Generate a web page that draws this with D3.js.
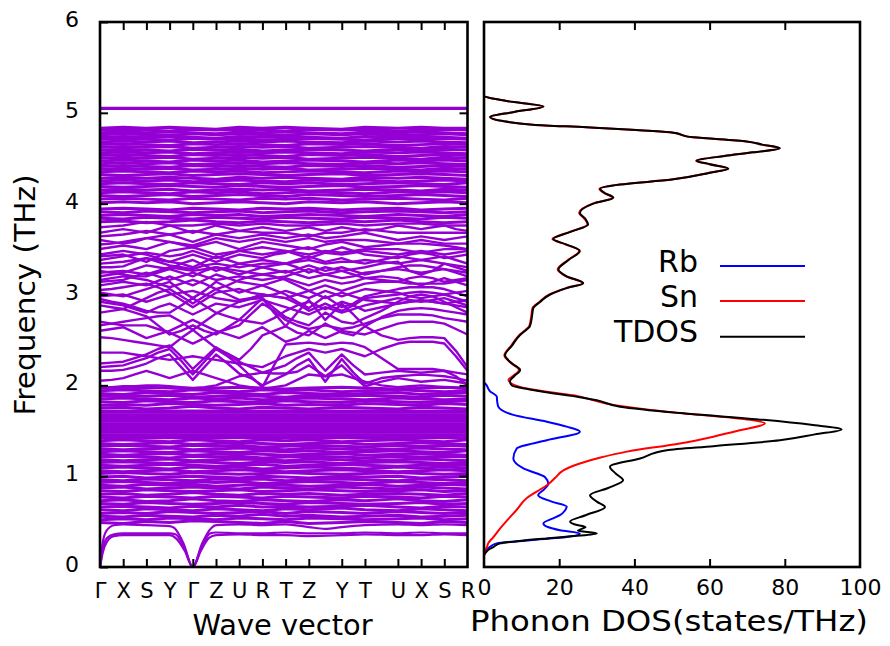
<!DOCTYPE html>
<html>
<head>
<meta charset="utf-8">
<script src="https://cdn.jsdelivr.net/npm/d3@7"></script>
<style>
  body { margin: 0; background: #fff; }
  svg { display: block; font-family: "DejaVu Sans", sans-serif; }
</style>
</head>
<body>
<svg id="chart" width="890" height="646"></svg>
<script>
// High-symmetry path: labels and cumulative path length
const kLabels = ["Γ","X","S","Y","Γ","Z","U","R","T","Z","Y","T","U","X","S","R"];
const kDist = [0,1,2,3,4,5,6,7,8,9,10.42,11.42,12.84,13.84,14.84,15.84];
const freqTicks = [0,1,2,3,4,5,6];
const dosTicks = [0,20,40,60,80,100];

// Acoustic branches as [k, frequency] pairs
const acousticBranches = [
  [[0,0],[0.12,0.16],[0.3,0.28],[0.6,0.34],[1,0.35],[2,0.35],[3,0.35],[3.3,0.31],[3.65,0.18],[4,0],[4.35,0.18],[4.7,0.32],[5,0.35],[6,0.36],[7,0.35],[8,0.35],[9,0.34],[10.42,0.35],[11.42,0.36],[12.84,0.35],[13.84,0.35],[14.84,0.36],[15.84,0.35]],
  [[0,0],[0.12,0.2],[0.3,0.32],[0.6,0.36],[1,0.37],[2,0.37],[3,0.37],[3.25,0.36],[3.62,0.22],[4,0],[4.38,0.22],[4.75,0.37],[5,0.38],[6,0.37],[7,0.37],[8,0.38],[9,0.37],[10.42,0.37],[11.42,0.38],[12.84,0.37],[13.84,0.38],[14.84,0.37],[15.84,0.37]],
  [[0,0],[0.1,0.24],[0.28,0.4],[0.6,0.46],[1,0.47],[2,0.46],[3,0.45],[3.2,0.43],[3.6,0.26],[4,0],[4.4,0.26],[4.8,0.43],[5,0.46],[6,0.47],[7,0.46],[8,0.47],[9,0.44],[9.7,0.42],[10.42,0.44],[11.42,0.46],[12.84,0.47],[13.84,0.46],[14.84,0.47],[15.84,0.46]]
];

// Optical bands, one value per high-symmetry point (0.5 - 1.0 THz)
const bandsLow = [
  [0.49,0.48,0.50,0.49,0.51,0.50,0.49,0.48,0.50,0.48,0.49,0.50,0.49,0.48,0.50,0.49],
  [0.52,0.53,0.52,0.54,0.53,0.52,0.54,0.53,0.52,0.54,0.53,0.52,0.53,0.54,0.52,0.53],
  [0.56,0.55,0.57,0.56,0.55,0.57,0.56,0.58,0.56,0.57,0.55,0.56,0.57,0.55,0.56,0.57],
  [0.59,0.60,0.59,0.61,0.60,0.59,0.60,0.61,0.59,0.61,0.60,0.59,0.61,0.60,0.59,0.60],
  [0.63,0.62,0.64,0.63,0.62,0.64,0.63,0.62,0.64,0.63,0.65,0.63,0.62,0.64,0.63,0.62],
  [0.66,0.67,0.66,0.65,0.67,0.66,0.68,0.66,0.67,0.66,0.67,0.68,0.66,0.65,0.67,0.66],
  [0.70,0.69,0.71,0.70,0.69,0.70,0.71,0.70,0.69,0.71,0.70,0.69,0.70,0.71,0.69,0.70],
  [0.73,0.74,0.72,0.73,0.75,0.73,0.72,0.74,0.73,0.72,0.74,0.73,0.75,0.73,0.72,0.74],
  [0.77,0.76,0.78,0.77,0.76,0.78,0.77,0.76,0.78,0.77,0.76,0.78,0.77,0.76,0.78,0.77],
  [0.80,0.81,0.79,0.80,0.82,0.80,0.79,0.81,0.80,0.81,0.79,0.80,0.81,0.80,0.79,0.81],
  [0.84,0.83,0.85,0.84,0.83,0.84,0.85,0.83,0.84,0.85,0.84,0.83,0.84,0.85,0.83,0.84],
  [0.87,0.88,0.86,0.87,0.88,0.87,0.86,0.88,0.87,0.86,0.88,0.87,0.86,0.88,0.87,0.86],
  [0.90,0.89,0.91,0.90,0.91,0.89,0.90,0.91,0.90,0.89,0.90,0.91,0.89,0.90,0.91,0.90],
  [0.93,0.94,0.93,0.92,0.94,0.93,0.94,0.92,0.93,0.94,0.93,0.92,0.94,0.93,0.92,0.93],
  [0.96,0.95,0.97,0.96,0.95,0.97,0.96,0.97,0.95,0.96,0.97,0.96,0.95,0.97,0.96,0.95],
  [0.99,1.00,0.98,0.99,1.00,0.99,0.98,1.00,0.99,0.98,1.00,0.99,1.00,0.98,0.99,1.00]
];

// Optical bands 1.0 - 2.0 THz
const bandsMid = [
  [1.03,1.04,1.03,1.02,1.04,1.03,1.02,1.03,1.04,1.03,1.02,1.03,1.04,1.03,1.02,1.03],
  [1.06,1.05,1.06,1.07,1.05,1.06,1.07,1.06,1.05,1.06,1.07,1.06,1.05,1.06,1.07,1.06],
  [1.09,1.10,1.09,1.08,1.10,1.09,1.10,1.08,1.09,1.10,1.09,1.08,1.10,1.09,1.10,1.09],
  [1.12,1.11,1.12,1.13,1.12,1.11,1.12,1.13,1.11,1.12,1.13,1.12,1.11,1.12,1.13,1.12],
  [1.15,1.16,1.15,1.14,1.16,1.15,1.14,1.16,1.15,1.16,1.14,1.15,1.16,1.15,1.14,1.15],
  [1.18,1.17,1.18,1.19,1.17,1.18,1.19,1.18,1.17,1.19,1.18,1.17,1.18,1.19,1.18,1.17],
  [1.21,1.22,1.21,1.20,1.22,1.21,1.22,1.20,1.21,1.22,1.21,1.20,1.22,1.21,1.22,1.21],
  [1.24,1.23,1.24,1.25,1.23,1.24,1.25,1.24,1.23,1.24,1.25,1.23,1.24,1.25,1.24,1.23],
  [1.27,1.28,1.27,1.26,1.28,1.27,1.26,1.28,1.27,1.28,1.26,1.27,1.28,1.27,1.26,1.28],
  [1.30,1.29,1.30,1.31,1.29,1.30,1.31,1.30,1.29,1.31,1.30,1.29,1.30,1.31,1.30,1.29],
  [1.33,1.34,1.33,1.32,1.34,1.33,1.34,1.32,1.33,1.34,1.33,1.32,1.34,1.33,1.34,1.33],
  [1.36,1.35,1.36,1.37,1.35,1.36,1.37,1.36,1.35,1.36,1.37,1.35,1.36,1.37,1.36,1.35],
  [1.39,1.40,1.39,1.38,1.40,1.39,1.38,1.40,1.39,1.40,1.38,1.39,1.40,1.39,1.38,1.40],
  [1.75,1.76,1.74,1.75,1.77,1.75,1.74,1.76,1.75,1.74,1.76,1.75,1.74,1.76,1.75,1.74],
  [1.78,1.79,1.78,1.80,1.79,1.78,1.79,1.80,1.78,1.79,1.78,1.80,1.79,1.78,1.80,1.79],
  [1.82,1.81,1.83,1.82,1.81,1.83,1.82,1.81,1.83,1.82,1.81,1.83,1.82,1.81,1.82,1.83],
  [1.85,1.86,1.85,1.84,1.86,1.85,1.86,1.84,1.85,1.86,1.85,1.84,1.86,1.85,1.84,1.85],
  [1.88,1.89,1.88,1.89,1.87,1.88,1.89,1.88,1.87,1.89,1.88,1.89,1.88,1.87,1.89,1.88],
  [1.91,1.90,1.92,1.91,1.90,1.92,1.91,1.90,1.92,1.91,1.90,1.91,1.92,1.90,1.91,1.92],
  [1.94,1.95,1.94,1.93,1.95,1.94,1.93,1.95,1.94,1.95,1.93,1.94,1.95,1.94,1.93,1.94],
  [1.97,1.97,1.98,1.97,1.96,1.97,1.98,1.97,1.96,1.97,1.98,1.97,1.96,1.97,1.98,1.97]
];

// Dispersionless bands (constant frequency along the whole path)
const flatLevels = [1.42,1.44,1.46,1.48,1.50,1.52,1.54,1.56,1.58,1.60,1.62,1.64,1.66,1.68,1.70,1.72,5.045,5.055];

// Dispersive bands 2.0 - 3.8 THz, values at high-symmetry points and segment midpoints
const bandsDispersive = [
  [2.16,2.16,2.17,2.20,2.24,2.30,2.34,2.20,2.06,2.20,2.34,2.24,2.13,2.08,2.00,2.06,2.12,2.22,2.29,2.04,2.29,2.14,2.02,2.08,2.10,2.11,2.12,2.11,2.10,2.08,2.05],
  [2.20,2.21,2.22,2.26,2.30,2.36,2.40,2.27,2.12,2.26,2.40,2.32,2.22,2.10,1.98,2.22,2.45,2.46,2.47,2.45,2.47,2.46,2.42,2.30,2.18,2.18,2.18,2.18,2.16,2.10,2.00],
  [1.98,1.98,1.99,1.99,2.00,2.00,1.99,1.98,1.97,1.98,2.00,2.05,2.10,2.12,2.14,2.13,2.13,2.15,2.22,2.10,2.22,2.10,1.99,2.04,2.08,2.06,2.04,2.05,2.06,2.04,2.02],
  [2.53,2.52,2.50,2.48,2.46,2.44,2.42,2.52,2.61,2.51,2.41,2.35,2.28,2.40,2.55,2.60,2.65,2.80,2.94,2.72,2.90,2.78,2.65,2.55,2.50,2.52,2.53,2.53,2.52,2.38,2.20],
  [2.66,2.68,2.70,2.72,2.74,2.76,2.77,2.70,2.61,2.70,2.79,2.86,2.92,2.95,2.96,2.80,2.65,2.58,2.55,2.68,2.58,2.55,2.65,2.75,2.82,2.84,2.85,2.84,2.82,2.80,2.78],
  [2.95,2.92,2.90,2.86,2.82,2.80,2.80,2.88,2.96,2.88,2.80,2.76,2.72,2.84,2.96,2.85,2.75,2.70,2.66,2.80,2.70,2.68,2.74,2.82,2.92,2.98,3.00,2.98,2.92,2.86,2.80],
  [3.02,3.00,2.98,3.02,3.06,3.10,3.14,3.04,2.96,3.04,3.14,3.08,3.02,3.06,3.10,3.05,3.00,2.92,2.85,2.98,2.86,2.90,2.98,3.02,3.06,3.08,3.08,3.08,3.06,3.02,2.98],
  [3.10,3.12,3.14,3.12,3.10,3.15,3.20,3.15,3.10,3.16,3.22,3.18,3.14,3.12,3.10,3.14,3.18,3.14,3.10,3.16,3.12,3.14,3.18,3.20,3.18,3.14,3.10,3.14,3.18,3.14,3.10],
  [3.20,3.22,3.24,3.28,3.32,3.30,3.28,3.24,3.20,3.26,3.30,3.26,3.22,3.26,3.30,3.27,3.24,3.28,3.32,3.26,3.30,3.26,3.22,3.26,3.30,3.32,3.32,3.30,3.28,3.24,3.20],
  [3.30,3.30,3.31,3.36,3.40,3.38,3.36,3.34,3.30,3.36,3.42,3.38,3.34,3.36,3.38,3.36,3.34,3.38,3.42,3.36,3.40,3.36,3.34,3.38,3.42,3.40,3.38,3.40,3.42,3.38,3.34],
  [3.38,3.40,3.42,3.44,3.46,3.44,3.42,3.44,3.48,3.44,3.40,3.44,3.48,3.46,3.44,3.46,3.48,3.44,3.40,3.46,3.44,3.46,3.48,3.46,3.44,3.46,3.48,3.46,3.44,3.46,3.48],
  [3.50,3.52,3.54,3.52,3.50,3.54,3.58,3.55,3.52,3.55,3.58,3.54,3.50,3.54,3.58,3.56,3.54,3.52,3.50,3.55,3.58,3.55,3.52,3.54,3.56,3.56,3.56,3.55,3.54,3.52,3.50],
  [2.80,2.82,2.84,2.80,2.76,2.66,2.56,2.60,2.66,2.60,2.56,2.64,2.72,2.70,2.68,2.74,2.82,2.88,2.92,2.84,2.92,2.88,2.82,2.86,2.90,2.92,2.93,2.92,2.90,2.88,2.86],
  [2.88,2.86,2.84,2.90,2.96,3.02,3.06,2.98,2.90,2.98,3.06,3.00,2.94,2.96,2.98,3.00,3.04,3.00,2.96,3.04,2.98,3.02,3.06,3.04,3.02,2.98,2.96,2.98,3.00,2.96,2.92],
  [2.60,2.62,2.64,2.58,2.52,2.56,2.60,2.66,2.72,2.66,2.60,2.56,2.52,2.58,2.64,2.56,2.48,2.52,2.60,2.52,2.60,2.58,2.56,2.62,2.68,2.70,2.70,2.70,2.68,2.62,2.56],
  [3.16,3.18,3.20,3.18,3.16,3.12,3.08,3.12,3.16,3.12,3.06,3.10,3.16,3.20,3.22,3.20,3.16,3.10,3.04,3.10,3.04,3.08,3.12,3.14,3.14,3.12,3.12,3.12,3.12,3.14,3.16],
  [3.26,3.24,3.22,3.20,3.20,3.24,3.28,3.34,3.38,3.32,3.26,3.30,3.34,3.32,3.30,3.32,3.34,3.30,3.24,3.30,3.26,3.28,3.30,3.34,3.36,3.26,3.22,3.26,3.34,3.30,3.26],
  [3.44,3.46,3.48,3.46,3.44,3.40,3.36,3.40,3.44,3.40,3.36,3.40,3.44,3.42,3.40,3.44,3.46,3.50,3.52,3.46,3.52,3.48,3.44,3.42,3.40,3.44,3.46,3.44,3.40,3.42,3.44],
  [3.60,3.58,3.56,3.58,3.62,3.64,3.66,3.62,3.58,3.62,3.66,3.64,3.62,3.64,3.66,3.64,3.62,3.64,3.66,3.62,3.64,3.66,3.68,3.64,3.60,3.62,3.64,3.62,3.60,3.62,3.64],
  [3.68,3.70,3.72,3.70,3.68,3.72,3.76,3.72,3.68,3.72,3.76,3.73,3.70,3.72,3.74,3.72,3.70,3.72,3.74,3.70,3.74,3.72,3.70,3.72,3.76,3.74,3.72,3.74,3.76,3.72,3.70],
  [2.05,2.06,2.08,2.12,2.16,2.12,2.08,2.12,2.16,2.12,2.08,2.04,2.00,1.98,1.96,1.98,2.00,2.06,2.12,2.10,2.12,2.08,2.04,2.00,1.98,1.99,2.00,1.99,1.98,1.97,1.96],
  [2.70,2.68,2.66,2.66,2.66,2.62,2.58,2.52,2.46,2.52,2.58,2.62,2.66,2.78,2.90,2.82,2.72,2.66,2.62,2.66,2.62,2.64,2.68,2.74,2.78,2.78,2.78,2.77,2.74,2.72,2.70],
  [3.05,3.06,3.08,3.10,3.12,3.08,3.02,2.94,2.86,2.94,3.02,3.04,3.06,3.02,3.00,2.98,2.96,2.90,2.82,2.90,2.82,2.88,2.96,2.98,3.00,3.02,3.03,3.02,3.00,3.02,3.04],
  [3.24,3.25,3.26,3.24,3.22,3.26,3.30,3.28,3.26,3.28,3.30,3.28,3.26,3.24,3.22,3.24,3.26,3.22,3.18,3.22,3.18,3.20,3.24,3.26,3.28,3.26,3.24,3.26,3.28,3.26,3.24],
  [3.34,3.35,3.36,3.38,3.40,3.36,3.32,3.30,3.28,3.32,3.34,3.32,3.30,3.32,3.34,3.34,3.34,3.36,3.38,3.34,3.36,3.36,3.38,3.36,3.34,3.36,3.38,3.36,3.34,3.32,3.30],
  [3.55,3.56,3.58,3.60,3.62,3.60,3.58,3.56,3.54,3.58,3.62,3.60,3.58,3.60,3.62,3.60,3.58,3.60,3.62,3.58,3.60,3.60,3.60,3.58,3.56,3.58,3.60,3.58,3.56,3.56,3.56],
  [3.64,3.65,3.66,3.68,3.70,3.68,3.66,3.68,3.70,3.68,3.66,3.68,3.70,3.69,3.68,3.68,3.68,3.66,3.64,3.68,3.68,3.70,3.72,3.70,3.68,3.68,3.68,3.68,3.68,3.68,3.68],
  [3.74,3.75,3.76,3.78,3.80,3.78,3.76,3.76,3.76,3.77,3.78,3.77,3.76,3.77,3.78,3.77,3.76,3.76,3.76,3.77,3.78,3.77,3.76,3.77,3.78,3.78,3.78,3.77,3.76,3.76,3.76],
  [2.24,2.25,2.26,2.30,2.34,2.40,2.44,2.32,2.18,2.30,2.42,2.34,2.26,2.20,2.14,2.18,2.22,2.30,2.36,2.16,2.34,2.22,2.12,2.14,2.16,2.15,2.14,2.15,2.16,2.14,2.12],
  [2.92,2.90,2.88,2.84,2.80,2.86,2.90,2.84,2.78,2.84,2.90,2.88,2.86,2.90,2.94,2.90,2.86,2.82,2.78,2.86,2.80,2.84,2.88,2.92,2.96,2.94,2.92,2.94,2.96,2.92,2.88],
  [2.36,2.36,2.36,2.34,2.32,2.30,2.28,2.30,2.32,2.30,2.28,2.26,2.24,2.22,2.20,2.26,2.32,2.36,2.40,2.36,2.40,2.36,2.32,2.40,2.46,2.48,2.48,2.48,2.46,2.32,2.16],
  [2.98,2.99,3.00,2.96,2.92,2.96,3.00,3.02,3.04,3.00,2.96,2.94,2.92,2.96,3.00,2.98,2.96,3.00,3.04,2.96,3.02,2.98,2.94,2.92,2.90,2.92,2.94,2.92,2.90,2.92,2.94],
  [3.14,3.15,3.16,3.20,3.24,3.20,3.16,3.20,3.24,3.20,3.16,3.18,3.20,3.18,3.16,3.18,3.20,3.24,3.28,3.22,3.26,3.22,3.18,3.16,3.14,3.18,3.20,3.18,3.14,3.16,3.18],
  [3.42,3.43,3.44,3.40,3.36,3.42,3.48,3.50,3.52,3.48,3.44,3.46,3.48,3.50,3.52,3.50,3.48,3.46,3.44,3.48,3.46,3.48,3.50,3.50,3.50,3.48,3.46,3.48,3.50,3.50,3.50]
];

// Optical bands 3.8 - 4.85 THz
const bandsHigh = [
  [3.80,3.81,3.79,3.80,3.82,3.80,3.79,3.81,3.80,3.79,3.81,3.80,3.82,3.80,3.79,3.80],
  [3.84,3.83,3.85,3.84,3.83,3.85,3.84,3.83,3.85,3.84,3.83,3.85,3.84,3.83,3.85,3.84],
  [3.87,3.88,3.87,3.86,3.88,3.87,3.88,3.86,3.87,3.88,3.87,3.86,3.88,3.87,3.86,3.88],
  [3.91,3.90,3.92,3.91,3.90,3.91,3.92,3.90,3.91,3.92,3.90,3.91,3.92,3.91,3.90,3.91],
  [3.94,3.95,3.94,3.93,3.95,3.94,3.93,3.95,3.94,3.95,3.93,3.94,3.95,3.93,3.94,3.95],
  [4.01,4.02,4.01,4.02,4.00,4.01,4.02,4.01,4.00,4.02,4.01,4.02,4.00,4.01,4.02,4.01],
  [4.05,4.06,4.05,4.04,4.06,4.05,4.04,4.06,4.05,4.06,4.04,4.05,4.06,4.05,4.04,4.06],
  [4.09,4.08,4.09,4.10,4.08,4.09,4.10,4.09,4.08,4.10,4.09,4.08,4.09,4.10,4.09,4.08],
  [4.12,4.13,4.12,4.11,4.13,4.12,4.13,4.11,4.12,4.13,4.12,4.11,4.13,4.12,4.13,4.12],
  [4.15,4.16,4.15,4.16,4.14,4.15,4.16,4.15,4.16,4.14,4.15,4.16,4.15,4.14,4.16,4.15],
  [4.19,4.18,4.19,4.20,4.19,4.18,4.20,4.19,4.18,4.19,4.20,4.18,4.19,4.20,4.19,4.18],
  [4.22,4.23,4.22,4.21,4.23,4.22,4.21,4.23,4.22,4.23,4.21,4.22,4.23,4.22,4.21,4.23],
  [4.25,4.26,4.25,4.26,4.24,4.25,4.26,4.25,4.24,4.26,4.25,4.26,4.24,4.25,4.26,4.25],
  [4.28,4.29,4.28,4.29,4.28,4.27,4.29,4.28,4.29,4.28,4.27,4.29,4.28,4.29,4.28,4.27],
  [4.32,4.31,4.32,4.33,4.31,4.32,4.33,4.32,4.31,4.32,4.33,4.31,4.32,4.33,4.32,4.31],
  [4.35,4.36,4.35,4.34,4.36,4.35,4.36,4.34,4.35,4.36,4.35,4.34,4.36,4.35,4.36,4.35],
  [4.38,4.39,4.38,4.39,4.37,4.38,4.39,4.38,4.39,4.37,4.38,4.39,4.38,4.37,4.39,4.38],
  [4.41,4.42,4.41,4.40,4.42,4.41,4.42,4.41,4.40,4.42,4.41,4.42,4.40,4.41,4.42,4.41],
  [4.44,4.45,4.44,4.45,4.43,4.44,4.45,4.44,4.45,4.44,4.43,4.45,4.44,4.45,4.44,4.43],
  [4.47,4.48,4.47,4.46,4.48,4.47,4.48,4.46,4.47,4.48,4.47,4.46,4.48,4.47,4.48,4.47],
  [4.50,4.51,4.50,4.51,4.49,4.50,4.51,4.50,4.51,4.49,4.50,4.51,4.50,4.49,4.51,4.50],
  [4.53,4.54,4.53,4.52,4.54,4.53,4.54,4.53,4.52,4.54,4.53,4.54,4.52,4.53,4.54,4.53],
  [4.56,4.57,4.56,4.57,4.55,4.56,4.57,4.56,4.57,4.56,4.55,4.57,4.56,4.57,4.56,4.55],
  [4.59,4.60,4.59,4.58,4.60,4.59,4.60,4.58,4.59,4.60,4.59,4.58,4.60,4.59,4.60,4.59],
  [4.62,4.63,4.62,4.63,4.61,4.62,4.63,4.62,4.63,4.61,4.62,4.63,4.62,4.61,4.63,4.62],
  [4.65,4.66,4.65,4.64,4.66,4.65,4.66,4.65,4.64,4.66,4.65,4.66,4.64,4.65,4.66,4.65],
  [4.68,4.69,4.68,4.69,4.67,4.68,4.69,4.68,4.69,4.68,4.67,4.69,4.68,4.69,4.68,4.67],
  [4.71,4.72,4.71,4.70,4.72,4.71,4.72,4.70,4.71,4.72,4.71,4.70,4.72,4.71,4.72,4.71],
  [4.73,4.74,4.73,4.74,4.73,4.72,4.74,4.73,4.74,4.73,4.72,4.74,4.73,4.74,4.73,4.72],
  [4.76,4.77,4.76,4.75,4.77,4.76,4.77,4.76,4.75,4.77,4.76,4.77,4.75,4.76,4.77,4.76],
  [4.78,4.79,4.78,4.79,4.78,4.77,4.79,4.78,4.79,4.78,4.77,4.79,4.78,4.79,4.78,4.77],
  [4.81,4.82,4.81,4.80,4.82,4.81,4.82,4.81,4.80,4.82,4.81,4.82,4.80,4.81,4.82,4.81],
  [4.83,4.84,4.83,4.84,4.83,4.82,4.84,4.83,4.84,4.83,4.82,4.84,4.83,4.84,4.83,4.83]
];

// Phonon density of states: [frequency (THz), states/THz]
const dosRb = [[0,0],[0.14,0],[0.18,0.5],[0.22,1.5],[0.26,3.4],[0.295,12.2],[0.33,22],[0.37,25.5],[0.405,20.2],[0.44,17],[0.48,15.8],[0.53,18],[0.57,20.2],[0.62,21.5],[0.665,22],[0.72,18],[0.79,14.4],[0.855,16],[0.915,17.1],[0.99,16.2],[1.085,10.5],[1.195,7.8],[1.305,8.7],[1.395,16.7],[1.49,25.5],[1.545,22],[1.60,16.7],[1.675,7.8],[1.765,3.8],[1.825,3.5],[1.875,3.4],[1.94,1.5],[2.0,0.7],[2.04,0],[6,0]];
const dosSn = [[0,0],[0.14,0],[0.18,0.3],[0.22,0.8],[0.26,1.1],[0.33,2.5],[0.425,4.3],[0.53,6.5],[0.63,8.7],[0.76,11.4],[0.83,14],[0.90,16.7],[0.985,19],[1.065,21.1],[1.14,25.5],[1.205,31],[1.27,38],[1.36,52.1],[1.435,61],[1.505,68],[1.58,74.7],[1.625,69.9],[1.71,48.6],[1.785,34.4],[1.89,23.8],[1.965,11.4],[2.06,6.5],[2.10,7.6],[2.17,9.3],[2.24,7.3],[2.33,5.4],[2.44,7.3],[2.555,9.4],[2.62,11.3],[2.65,12.0],[2.77,12.6],[2.85,12.9],[2.92,14.8],[3.0,17.4],[3.07,21.8],[3.125,26.2],[3.20,21.8],[3.275,19.6],[3.38,22.3],[3.48,25.3],[3.55,21.8],[3.61,18.2],[3.69,22.8],[3.77,27.5],[3.83,26.8],[3.90,25.3],[4.0,28.9],[4.065,34.2],[4.12,31.8],[4.165,30.7],[4.21,36.0],[4.265,49.8],[4.34,59.9],[4.385,64.8],[4.435,59.9],[4.47,56.4],[4.525,63.8],[4.565,71.4],[4.61,78.5],[4.65,73.8],[4.685,69.7],[4.73,55.5],[4.785,49.3],[4.81,40.4],[4.84,27.1],[4.87,12.9],[4.91,5],[4.955,1.6],[5.01,8],[5.07,15.8],[5.13,6],[5.19,0],[6,0]];
const dosTotal = [[0,0],[0.12,0],[0.16,0.5],[0.19,1.2],[0.22,2.5],[0.26,4.3],[0.29,10],[0.315,16.7],[0.34,24],[0.37,30],[0.40,25],[0.44,27],[0.47,24],[0.50,22.9],[0.57,27],[0.66,32.2],[0.72,30],[0.79,28.2],[0.87,33],[0.955,37],[1.03,35],[1.105,33.5],[1.195,41.5],[1.285,48.6],[1.33,61],[1.395,78.7],[1.46,88],[1.515,95.1],[1.565,87],[1.62,74.3],[1.695,52.1],[1.765,36.2],[1.835,30],[1.87,25.5],[1.92,17],[1.955,12.2],[2.0,7.4],[2.045,6.9],[2.10,8],[2.17,9.6],[2.24,7.5],[2.33,5.6],[2.44,7.5],[2.555,9.6],[2.62,11.5],[2.65,12.2],[2.77,12.8],[2.85,13.1],[2.92,15],[3.0,17.6],[3.07,22],[3.125,26.4],[3.20,22],[3.275,19.8],[3.38,22.5],[3.48,25.5],[3.55,22],[3.61,18.4],[3.69,23],[3.77,27.7],[3.83,27],[3.90,25.5],[4.0,29.1],[4.065,34.4],[4.12,32],[4.165,30.9],[4.21,36.2],[4.265,50],[4.34,60.1],[4.385,65],[4.435,60.1],[4.47,56.6],[4.525,64],[4.565,71.6],[4.61,78.7],[4.65,74],[4.685,69.9],[4.73,55.7],[4.785,49.5],[4.81,40.6],[4.84,27.3],[4.87,13],[4.91,5],[4.955,1.6],[5.01,8],[5.07,15.8],[5.13,6],[5.19,0],[6,0]];
const dosNames = ["Rb","Sn","TDOS"];

// ---------- drawing ----------
const svg = d3.select("#chart");
const bandColor = "#9400d3";
const dosColors = ["#0000ff", "#ff0000", "#000000"];

const left = { x0: 100, x1: 467.5 };
const right = { x0: 484, x1: 860 };
const yTop = 22, yBottom = 567;

const x = d3.scaleLinear().domain([kDist[0], kDist[kDist.length - 1]]).range([left.x0, left.x1]);
const y = d3.scaleLinear().domain([0, 6]).range([yBottom, yTop]);
const xd = d3.scaleLinear().domain([0, 100]).range([right.x0, right.x1]);

// k positions for band tables that include segment midpoints
const kFine = [];
kDist.forEach((k, i) => {
  kFine.push(k);
  if (i < kDist.length - 1) kFine.push((k + kDist[i + 1]) / 2);
});

svg.append("defs").append("clipPath").attr("id", "bandClip")
  .append("rect").attr("x", left.x0).attr("y", yTop)
  .attr("width", left.x1 - left.x0).attr("height", yBottom - yTop);

const bandLayer = svg.append("g").attr("clip-path", "url(#bandClip)")
  .attr("fill", "none").attr("stroke", bandColor).attr("stroke-linejoin", "round");

const lineK = d3.line().x(d => x(d[0])).y(d => y(d[1]));
const bandPath = (vals, grid) => lineK(vals.map((f, i) => [grid[i], f]));

// densely packed optical manifolds
[bandsLow, bandsMid, bandsHigh].forEach(set => {
  bandLayer.append("g").attr("stroke-width", 3).selectAll("path").data(set).enter().append("path")
    .attr("d", d => bandPath(d, kDist));
});
bandLayer.append("g").attr("stroke-width", 2.4).selectAll("path").data(flatLevels).enter().append("path")
  .attr("d", f => lineK([[kDist[0], f], [kDist[kDist.length - 1], f]]));
bandLayer.append("g").attr("stroke-width", 2.4).selectAll("path").data(bandsDispersive).enter().append("path")
  .attr("d", d => bandPath(d, kFine));
bandLayer.append("g").attr("stroke-width", 2.2).selectAll("path").data(acousticBranches).enter().append("path")
  .attr("d", d3.line().x(d => x(d[0])).y(d => y(d[1])).curve(d3.curveMonotoneX));

// DOS curves (Rb, Sn, total drawn in that order)
const dosLine = d3.line().x(d => xd(d[1])).y(d => y(d[0])).curve(d3.curveMonotoneY);
svg.append("g").attr("fill", "none").attr("stroke-width", 2).attr("stroke-linejoin", "round")
  .selectAll("path").data([dosRb, dosSn, dosTotal]).enter().append("path")
  .attr("stroke", (d, i) => dosColors[i])
  .attr("d", dosLine);

// Axes (ticks point inward)
const fontTick = 22;
function styleAxis(g) {
  g.select(".domain").remove();
  g.selectAll(".tick line").attr("stroke", "#000").attr("stroke-width", 2);
  g.selectAll("text").attr("fill", "#000").attr("font-family", "DejaVu Sans").attr("font-size", fontTick);
}

const innerK = kDist.slice(1, -1);
svg.append("g").attr("transform", `translate(0,${yBottom})`)
  .call(d3.axisBottom(x).tickValues(kDist).tickFormat((d, i) => kLabels[i]).tickSizeInner(0).tickSizeOuter(0))
  .call(styleAxis)
  .call(g => g.selectAll("text").attr("y", 30.5).attr("dy", 0).attr("font-size", 21));
svg.append("g").attr("transform", `translate(0,${yBottom})`)
  .call(d3.axisBottom(x).tickValues(innerK).tickFormat("").tickSizeInner(-8).tickSizeOuter(0))
  .call(styleAxis);
svg.append("g").attr("transform", `translate(0,${yTop})`)
  .call(d3.axisTop(x).tickValues(innerK).tickFormat("").tickSizeInner(-8).tickSizeOuter(0))
  .call(styleAxis);
svg.append("g").attr("transform", `translate(${left.x0},0)`)
  .call(d3.axisLeft(y).tickValues(freqTicks).tickFormat(d3.format("d")).tickSizeInner(-8).tickSizeOuter(0).tickPadding(21))
  .call(styleAxis)
  .call(g => g.selectAll("text").attr("dy", 4.6));
svg.append("g").attr("transform", `translate(${left.x1},0)`)
  .call(d3.axisRight(y).tickValues(freqTicks.slice(1, -1)).tickFormat("").tickSizeInner(-8).tickSizeOuter(0))
  .call(styleAxis);

svg.append("g").attr("transform", `translate(0,${yBottom})`)
  .call(d3.axisBottom(xd).tickValues(dosTicks).tickFormat(d3.format("d")).tickSizeInner(0).tickSizeOuter(0))
  .call(styleAxis)
  .call(g => g.selectAll("text").attr("y", 28).attr("dy", 0));
svg.append("g").attr("transform", `translate(0,${yBottom})`)
  .call(d3.axisBottom(xd).tickValues(dosTicks.slice(1, -1)).tickFormat("").tickSizeInner(-8).tickSizeOuter(0))
  .call(styleAxis);
svg.append("g").attr("transform", `translate(0,${yTop})`)
  .call(d3.axisTop(xd).tickValues(dosTicks.slice(1, -1)).tickFormat("").tickSizeInner(-8).tickSizeOuter(0))
  .call(styleAxis);

// Panel frames
[left, right].forEach(p => {
  svg.append("rect").attr("x", p.x0).attr("y", yTop)
    .attr("width", p.x1 - p.x0).attr("height", yBottom - yTop)
    .attr("fill", "none").attr("stroke", "#000").attr("stroke-width", 2.6);
});

// Axis titles
svg.append("text").attr("x", 282.5).attr("y", 635).attr("text-anchor", "middle")
  .attr("font-size", 28).attr("textLength", 180).attr("lengthAdjust", "spacingAndGlyphs")
  .text("Wave vector");
svg.append("text").attr("x", 669).attr("y", 631).attr("text-anchor", "middle")
  .attr("font-size", 28).attr("textLength", 398).attr("lengthAdjust", "spacingAndGlyphs")
  .text("Phonon DOS(states/THz)");
svg.append("text").attr("transform", "translate(35,295) rotate(-90)").attr("text-anchor", "middle")
  .attr("font-size", 28).attr("textLength", 241).attr("lengthAdjust", "spacingAndGlyphs")
  .text("Frequency (THz)");

// Legend
const legendY = [266, 301, 336.7];
const legend = svg.append("g");
dosNames.forEach((name, i) => {
  legend.append("text").attr("x", 698).attr("y", legendY[i] + 5.7).attr("text-anchor", "end")
    .attr("font-size", 30).text(name);
  legend.append("line").attr("x1", 720).attr("x2", 805).attr("y1", legendY[i]).attr("y2", legendY[i])
    .attr("stroke", dosColors[i]).attr("stroke-width", 2);
});
</script>
</body>
</html>
